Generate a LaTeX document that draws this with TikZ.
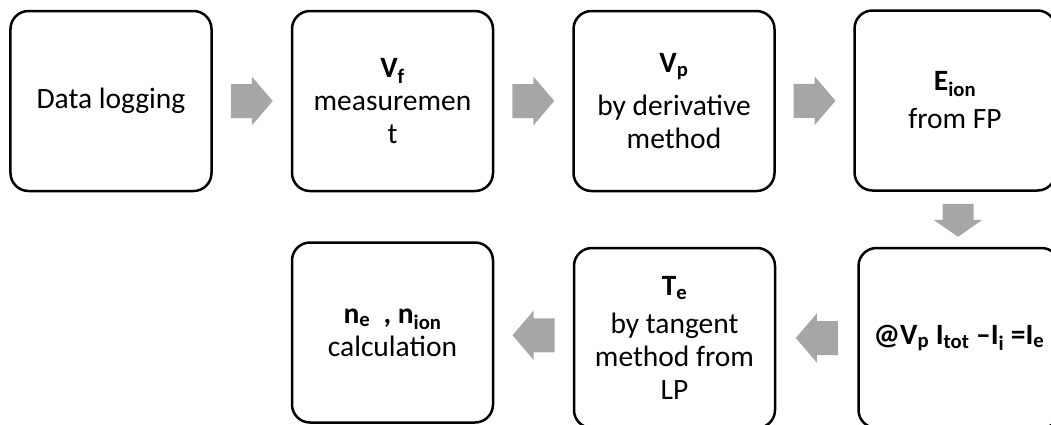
\documentclass[tikz,border=0pt]{standalone}
\usepackage{fontspec}
\setmainfont{Carlito}
\usetikzlibrary{calc}
\definecolor{arrowgray}{HTML}{A6A6A6}
\tikzset{
  stepbox/.style={draw=black, line width=2.5bp, rounded corners=18bp,
    minimum width=201bp, minimum height=180bp, align=center, inner sep=0pt,
    font=\fontsize{29.5bp}{33bp}\selectfont},
  pics/hblk/.style={code={\fill[arrowgray] (-21,-17)--(0,-17)--(0,-24.5)--(21,0)--(0,24.5)--(0,17)--(-21,17)--cycle;}},
  pics/vblk/.style={code={\fill[arrowgray] (-15.5,-16.5)--(15.5,-16.5)--(15.5,-0.5)--(24.5,-0.5)--(0,16.5)--(-24.5,-0.5)--(-15.5,-0.5)--cycle;}}
}
\begin{document}
\begin{tikzpicture}[x=1bp,y=-1bp]
\useasboundingbox (0,0) rectangle (1051,424);
\node[stepbox] (b1) at (111,101) {Data logging};
\node[stepbox] (b2) at (392.5,101) {\textbf{V\textsubscript{f}}\\measuremen\\t};
\node[stepbox] (b3) at (674,101) {\textbf{V\textsubscript{p}}\\[10bp]by derivative\\method};
\node[stepbox] (b4) at (955,100.5) {\textbf{E\textsubscript{ion}}\\[5bp]from FP};
\node[stepbox] (b5) at (392.5,332.5) {\textbf{n\textsubscript{e}\ \ , n\textsubscript{ion}}\\calculation};
\node[stepbox] (b6) at (674.5,338) {\textbf{T\textsubscript{e}}\\[5bp]by tangent\\method from\\LP};
\node[stepbox] (b7) at (959,338) {\textbf{@V\textsubscript{p} I\textsubscript{tot} –I\textsubscript{i} =I\textsubscript{e}}};
\pic at ($(b1.east)!0.5!(b2.west)$) {hblk};
\pic at ($(b2.east)!0.5!(b3.west)$) {hblk};
\pic at ($(b3.east)!0.5!(b4.west)$) {hblk};
\pic at ($(b4.south)!0.5!(b7.north)+(1,1)$) {vblk};
\pic[rotate=180] at ($(b7.west)!0.5!(b6.east)$) {hblk};
\pic[rotate=180] at ($(b6.west)!0.5!(b5.east)$) {hblk};
\end{tikzpicture}
\end{document}
